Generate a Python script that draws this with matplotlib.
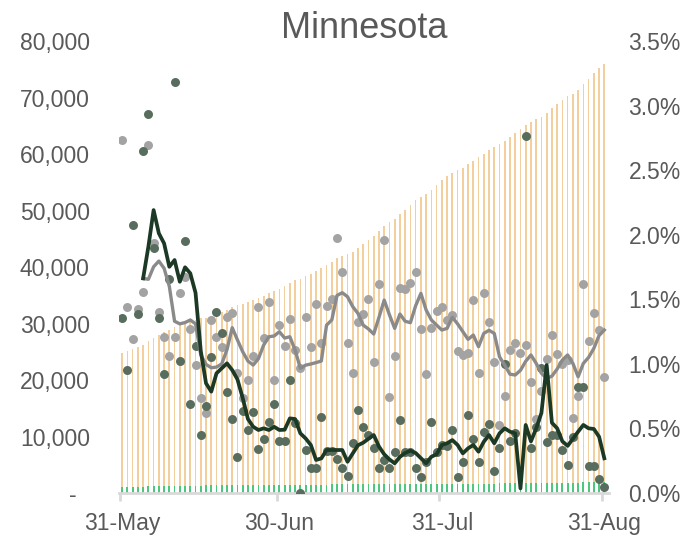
import numpy as np
import pandas as pd
import matplotlib
matplotlib.use('Agg')
import matplotlib.pyplot as plt
from matplotlib.ticker import FuncFormatter, FixedLocator

plt.rcParams['font.family'] = ['Liberation Sans', 'DejaVu Sans']

# dates: 31-May .. 31-Aug (daily)
dates = pd.date_range('2020-05-31', '2020-08-31', freq='D')

# cumulative cases (left axis, orange bars)
cum_cases = [
    24850, 25210, 25510, 25870, 26270, 26980, 27500, 28020, 28520, 28870,
    29320, 29800, 30170, 30480, 30690, 30890, 31050, 31400, 31750, 32110,
    32480, 32900, 33200, 33470, 33770, 34120, 34530, 34950, 35370, 35730,
    36100, 36580, 37130, 37620, 37950, 38360, 38810, 39250, 39880, 40420,
    40960, 41590, 41980, 42280, 42740, 43350, 44000, 44750, 45560, 46400,
    47250, 47900, 48500, 49300, 50150, 51000, 51800, 52450, 52950, 53700,
    54600, 55400, 56100, 56700, 57100, 57600, 58200, 58800, 59450, 60050,
    60700, 61200, 61770, 62300, 62960, 63720, 64420, 65130, 65720, 66130,
    66600, 67310, 68140, 68850, 69610, 70260, 70680, 71270, 72390, 73220,
    74280, 75220, 75930,
]

# cumulative deaths (left axis, green bars)
cum_deaths = [
    1050, 1064, 1086, 1100, 1128, 1159, 1179, 1195, 1206, 1224, 1262, 1274,
    1297, 1305, 1318, 1324, 1333, 1347, 1363, 1379, 1389, 1395, 1399, 1406,
    1412, 1420, 1425, 1430, 1438, 1448, 1454, 1460, 1473, 1481, 1481, 1486,
    1489, 1492, 1501, 1506, 1511, 1515, 1518, 1520, 1526, 1536, 1544, 1551,
    1556, 1559, 1563, 1566, 1571, 1580, 1585, 1590, 1593, 1595, 1599, 1608,
    1613, 1619, 1625, 1633, 1635, 1639, 1649, 1656, 1660, 1668, 1677, 1680,
    1686, 1703, 1710, 1718, 1718, 1766, 1772, 1781, 1798, 1805, 1813, 1821,
    1827, 1831, 1839, 1854, 1869, 1873, 1877, 1879, 1880,
]

# daily case growth % (right axis, gray dots)
case_growth = [
    2.733, 1.443, 1.190, 1.422, 1.559, 2.697, 1.936, 1.404, 1.210, 1.061,
    1.210, 1.551, 1.672, 1.268, 0.991, 0.733, 0.617, 1.340, 1.210, 1.128,
    1.365, 1.396, 0.930, 0.733, 0.878, 1.063, 1.443, 1.203, 1.477, 0.877,
    1.300, 1.140, 1.347, 1.107, 0.970, 1.365, 1.133, 1.463, 1.164, 1.448,
    1.502, 1.975, 1.710, 1.159, 0.928, 1.323, 1.386, 1.503, 1.017, 1.618,
    1.959, 0.743, 1.063, 1.585, 1.577, 1.624, 1.714, 1.270, 0.921, 1.275,
    1.407, 1.438, 1.337, 1.378, 1.097, 1.066, 1.082, 1.492, 0.932, 1.551,
    1.326, 1.017, 0.527, 0.751, 1.107, 1.159, 1.082, 1.146, 0.862, 0.571,
    0.792, 1.035, 1.226, 1.076, 1.000, 1.030, 0.578, 0.751, 1.621, 1.175,
    1.391, 1.262, 0.896,
]

# daily death growth % (right axis, dark green dots)
death_growth = [
    1.353, 0.952, 2.078, 1.386, 2.646, 2.937, 1.899, 1.353, 0.921, 1.657,
    3.180, 1.024, 1.954, 0.689, 1.140, 0.449, 0.676, 1.050, 1.404, 1.236,
    0.785, 0.571, 0.281, 0.635, 0.488, 0.625, 0.343, 0.416, 0.547, 0.687,
    0.405, 0.405, 0.875, 0.540, 0.000, 0.333, 0.196, 0.196, 0.591, 0.328,
    0.328, 0.261, 0.196, 0.129, 0.385, 0.643, 0.513, 0.449, 0.350, 0.191,
    0.256, 0.191, 0.315, 0.565, 0.315, 0.315, 0.191, 0.126, 0.243, 0.552,
    0.315, 0.369, 0.366, 0.488, 0.122, 0.243, 0.604, 0.418, 0.243, 0.475,
    0.534, 0.173, 0.346, 0.996, 0.405, 0.462, np.nan, 2.764, 0.346, 0.513,
    0.966, 0.393, 0.449, 0.449, 0.333, 0.217, 0.436, 0.823, 0.818, 0.212,
    0.212, 0.106, 0.049,
]

# smoothed lines, from day 4 (4-Jun) on
case_avg = [
    1.662, 1.655, 1.752, 1.796, 1.740, 1.600, 1.330, 1.310, 1.320, 1.340,
    1.310, 1.070, 0.996, 0.970, 0.975, 1.000, 1.110, 1.280, 1.185, 1.094,
    1.022, 0.991, 1.040, 1.146, 1.210, 1.216, 1.249, 1.200, 1.210, 1.107,
    0.966, 0.990, 0.999, 1.010, 1.022, 1.300, 1.340, 1.530, 1.551, 1.520,
    1.443, 1.390, 1.300, 1.270, 1.231, 1.360, 1.494, 1.380, 1.275, 1.386,
    1.330, 1.319, 1.450, 1.546, 1.417, 1.340, 1.300, 1.262, 1.275, 1.360,
    1.310, 1.250, 1.190, 1.223, 1.133, 1.236, 1.260, 1.236, 1.055, 0.990,
    0.920, 0.914, 0.950, 1.020, 1.069, 1.004, 0.927, 0.888, 0.905, 0.960,
    1.030, 1.069, 1.004, 0.900, 1.004, 1.050, 1.120, 1.220, 1.262,
]
death_avg = [
    1.662, 1.907, 2.191, 2.011, 1.933, 1.752, 1.804, 1.636, 1.748, 1.701,
    1.550, 1.100, 0.850, 0.785, 0.927, 0.966, 1.004, 0.952, 0.880, 0.735,
    0.573, 0.513, 0.488, 0.501, 0.488, 0.513, 0.488, 0.490, 0.578, 0.573,
    0.462, 0.423, 0.372, 0.256, 0.268, 0.333, 0.333, 0.333, 0.333, 0.242,
    0.307, 0.370, 0.390, 0.420, 0.449, 0.360, 0.300, 0.260, 0.230, 0.280,
    0.310, 0.328, 0.310, 0.270, 0.230, 0.281, 0.300, 0.372, 0.385, 0.410,
    0.372, 0.307, 0.346, 0.372, 0.320, 0.397, 0.449, 0.385, 0.462, 0.501,
    0.475, 0.462, 0.036, 0.527, 0.400, 0.500, 0.620, 0.991, 0.544, 0.501,
    0.400, 0.365, 0.420, 0.475, 0.527, 0.501, 0.496, 0.436, 0.269,
]

x = np.arange(len(dates))
x_avg = x[4:]

fig = plt.figure(figsize=(6.86, 5.37), dpi=100)
ax = fig.add_axes([0.1735, 0.0819, 0.7143, 0.8417])
ax2 = ax.twinx()

txt = '#595959'
axis_col = '#D9D9D9'

ax.bar(x, cum_cases, width=0.32, color='#F3CF9E', linewidth=0)
ax.bar(x, cum_deaths, width=0.35, color='#4DC77E', linewidth=0)

ax2.scatter(x, case_growth, s=42, color='#A3A3A3', linewidths=0, zorder=3)
ax2.scatter(x, death_growth, s=42, color='#586D5E', linewidths=0, zorder=4)
ax2.plot(x_avg, case_avg, color='#8A8A8A', lw=2.4, zorder=5)
ax2.plot(x_avg, death_avg, color='#1C3926', lw=2.7, zorder=6)

ax.set_xlim(-0.6, 92.9)
ax.set_ylim(0, 80000)
ax2.set_ylim(0, 3.5)

ax.set_yticks(np.arange(0, 80001, 10000))
ax.yaxis.set_major_formatter(FuncFormatter(lambda v, p: f'{v:,.0f}' if v else '-  '))
ax2.set_yticks(np.arange(0, 3.51, 0.5))
ax2.yaxis.set_major_formatter(FuncFormatter(lambda v, p: f'{v:.1f}%'))

lab_days = [0, 30, 61, 92]
ax.set_xticks(lab_days)
ax.set_xticklabels([dates[d].strftime('%d-%b') for d in lab_days])
ax.xaxis.set_minor_locator(FixedLocator([d - 0.5 for d in lab_days]))

for a in (ax, ax2):
    for s in ('top', 'left', 'right', 'bottom'):
        a.spines[s].set_visible(False)
ax.spines['bottom'].set_visible(True)
ax.spines['bottom'].set_color(axis_col)
ax.spines['bottom'].set_linewidth(2.0)

ax.tick_params(axis='y', length=0, pad=21, labelsize=16.5, labelcolor=txt)
ax2.tick_params(axis='y', length=0, pad=14, labelsize=16.5, labelcolor=txt)
ax.tick_params(axis='x', which='major', length=0, pad=14, labelsize=16.5, labelcolor=txt)
ax.tick_params(axis='x', which='minor', length=6, width=2.0, color=axis_col)

fig.text(0.5306, 0.947, 'Minnesota', ha='center', va='center', fontsize=26, color=txt)

fig.savefig('out.png', dpi=100)
